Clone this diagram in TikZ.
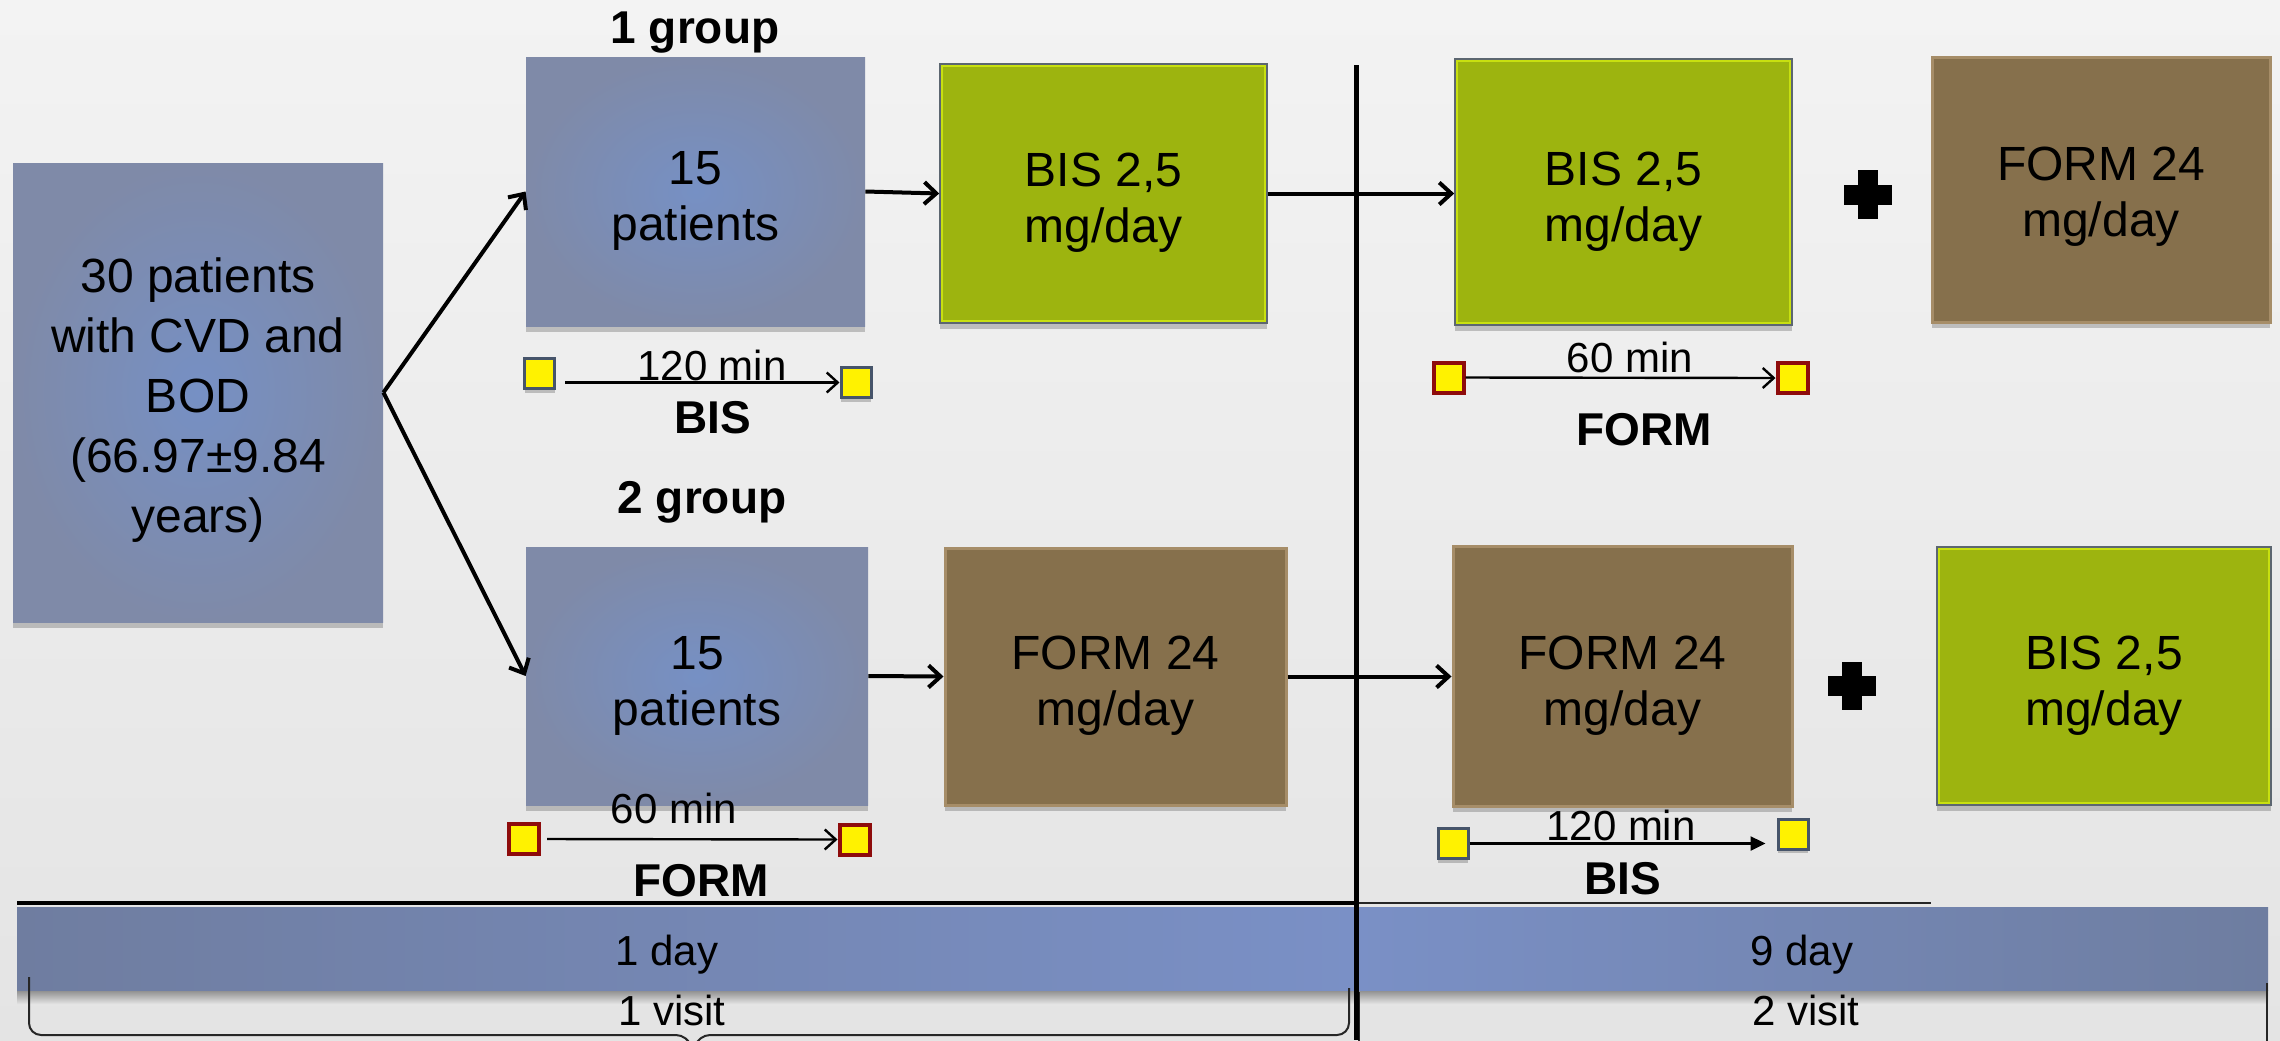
\documentclass[tikz,border=0pt]{standalone}
\usepackage{fontspec}
\setmainfont{Liberation Sans}
\usetikzlibrary{arrows.meta,shadows,calc}
\definecolor{bgtop}{HTML}{F3F3F3}
\definecolor{bgbot}{HTML}{E4E4E4}
\definecolor{blueIn}{HTML}{7690C4}
\definecolor{blueOut}{HTML}{7F8AA8}
\definecolor{grn}{HTML}{9DB40F}
\definecolor{grnRim}{HTML}{C8E010}
\definecolor{grnLine}{HTML}{5C6670}
\definecolor{brn}{HTML}{86704C}
\definecolor{brnRim}{HTML}{A68D68}
\definecolor{sqLine}{HTML}{46546A}
\definecolor{sqRed}{HTML}{8E0C0C}
\definecolor{barL}{HTML}{6F7DA0}
\definecolor{barM}{HTML}{7A90C6}
\definecolor{barR}{HTML}{6E7DA0}
\begin{document}
\begin{tikzpicture}[x=0.5pt,y=-0.5pt,
  toppad/.style={execute at begin node={\rule{0pt}{#1}}},
  boxshadow/.style={drop shadow={shadow xshift=0pt,shadow yshift=-3pt,opacity=0.3,fill=black!70}},
  boxtext/.style={font=\fontsize{24}{28}\selectfont, align=center, inner sep=0pt},
  bluebox/.style={boxtext, shading=radial, inner color=blueIn, outer color=blueOut, boxshadow},
  grnbox/.style={boxtext, fill=grn, boxshadow, draw=grnLine, line width=0.8pt,
    path picture={\draw[grnRim, line width=3pt] (path picture bounding box.north west) rectangle (path picture bounding box.south east);}},
  brnbox/.style={boxtext, fill=brn, draw=brnRim, line width=1.5pt, boxshadow},
  sqb/.style={draw=sqLine, line width=1.5pt, fill=yellow, minimum size=15pt, inner sep=0pt,
    drop shadow={shadow xshift=0pt,shadow yshift=-2pt,opacity=0.3,fill=black!70}},
  sqr/.style={draw=sqRed, line width=2pt, fill=yellow, minimum size=15pt, inner sep=0pt},
  bigarr/.style={line width=2pt, -{Straight Barb[length=6pt,width=11pt]}},
  smallarr/.style={line width=1.2pt, -{Straight Barb[length=5.5pt,width=10pt]}},
  filledarr/.style={line width=1.2pt, -{Triangle[length=7.5pt,width=7pt]}},
  minlbl/.style={font=\fontsize{21}{24}\selectfont, anchor=base, inner sep=0pt},
  boldlbl/.style={font=\fontsize{23}{26}\selectfont\bfseries, anchor=base, inner sep=0pt},
  barlbl/.style={font=\fontsize{21}{24}\selectfont, anchor=base, inner sep=0pt}
]
\useasboundingbox (0,0) rectangle (2280,1040);
\clip (0,0) rectangle (2280,1040);
\shade[top color=bgtop, bottom color=bgbot] (0,0) rectangle (2280,1040);

% boxes
\node[bluebox, minimum width=185pt, minimum height=229.5pt, font=\fontsize{24}{30}\selectfont, toppad=144.5pt] (main) at (198,392.5)
  {30 patients\\with CVD and\\BOD\\(66.97±9.84\\years)};
\node[bluebox, toppad=54pt, minimum width=169.5pt, minimum height=134.5pt] (g1) at (695.5,191.5) {15\\patients};
\node[grnbox, toppad=54pt, minimum width=163.5pt, minimum height=129.5pt] (bis1) at (1103.5,193.5) {BIS 2,5\\mg/day};
\node[grnbox, toppad=54pt, minimum width=168.5pt, minimum height=133pt] (bis2) at (1623.5,192) {BIS 2,5\\mg/day};
\node[brnbox, toppad=51.7pt, minimum width=169pt, minimum height=132.5pt] (form1) at (2101,189.5) {FORM 24\\mg/day};
\node[bluebox, toppad=54pt, minimum width=171pt, minimum height=129pt] (g2) at (697,676) {15\\patients};
\node[brnbox, toppad=54pt, minimum width=170.5pt, minimum height=128.5pt] (form2) at (1115.5,676.5) {FORM 24\\mg/day};
\node[brnbox, toppad=54pt, minimum width=169.5pt, minimum height=130pt] (form3) at (1622.5,676) {FORM 24\\mg/day};
\node[grnbox, toppad=54pt, minimum width=167pt, minimum height=129pt] (bis3) at (2104,676) {BIS 2,5\\mg/day};

% group labels
\node[boldlbl] (lg1) at (695,43) {1 group};
\node[boldlbl] (lg2) at (702,513) {2 group};

% plus signs
\fill (1844,185) rectangle (1892,205);
\fill (1858,170) rectangle (1878,219);
\fill (1828,676) rectangle (1876,696);
\fill (1842,662) rectangle (1862,710);

% main connectors
\draw[bigarr] (main.east) -- (g1.west);
\draw[bigarr] (main.east) -- (g2.west);
\draw[bigarr] (g1.east) -- (bis1.west);
\draw[bigarr] (g2.east) -- (form2.west);
\draw[bigarr] (bis1.east) -- (bis1.east -| bis2.west);
\draw[bigarr] (form2.east) -- (form2.east -| form3.west);

% timing rows
\node[sqb] (a1) at (539.5,373.5) {};
\node[sqb] (a2) at (856,382.5) {};
\draw[smallarr] ($(a1.east |- a2.west)+(9,0)$) -- (a2.west);
\node[minlbl] (ta) at (712,380) {120 min};
\node[boldlbl] (da) at (713,433) {BIS};

\node[sqr] (b1) at (524,839) {};
\node[sqr] (b2) at (854.5,839.5) {};
\draw[smallarr] ($(b1.east)+(6,0)$) -- (b2.west);
\node[minlbl] (tb) at (674,823) {60 min};
\node[boldlbl] (db) at (701,896) {FORM};

\node[sqr] (c1) at (1448.5,377.5) {};
\node[sqr] (c2) at (1792.5,378) {};
\draw[smallarr] (c1.east) -- (c2.west);
\node[minlbl] (tc) at (1630,372) {60 min};
\node[boldlbl] (dc) at (1644,445) {FORM};

\node[sqb] (d1) at (1453,843.5) {};
\node[sqb] (d2) at (1793,834) {};
\draw[filledarr] (d1.east) -- ($(d2.west |- d1.east)+(-11,0)$);
\node[minlbl] (td) at (1621,840) {120 min};
\node[boldlbl] (dd) at (1623,894) {BIS};

% timeline bar
\shade[top color=black!45, bottom color=bgbot] (17,990) rectangle (2268,1004);
\shade[left color=barL, right color=barM] (17,907) rectangle (1356,990);
\shade[left color=barM, right color=barR] (1356,907) rectangle (2268,990);
\draw[line width=1.7pt] (17,903) -- (1356,903);
\draw[line width=1pt, black!85] (1356,903) -- (1931,903);
\node[barlbl] (day1) at (667,965) {1 day};
\node[barlbl] (day9) at (1802,965) {9 day};
\node[barlbl] (v1) at (672,1025) {1 visit};
\node[barlbl] (v2) at (1806,1025) {2 visit};

% braces
\draw[line width=1pt, black!85, rounded corners=6pt] (29,977) -- (29,1035) -- (688,1035) -- (693,1052);
\draw[line width=1pt, black!85, rounded corners=6pt] (693,1052) -- (698,1035) -- (1349,1035) -- (1349,988);
\draw[line width=1pt, black!85] (1359,992) -- (1359,1045);
\draw[line width=1pt, black!85] (2267,983) -- (2267,1045);

% divider
\coordinate (vtop) at (1356,65);
\coordinate (vbot) at (1356,1040);
\draw[line width=2.5pt] (vtop) -- (vbot);
\end{tikzpicture}
\end{document}
